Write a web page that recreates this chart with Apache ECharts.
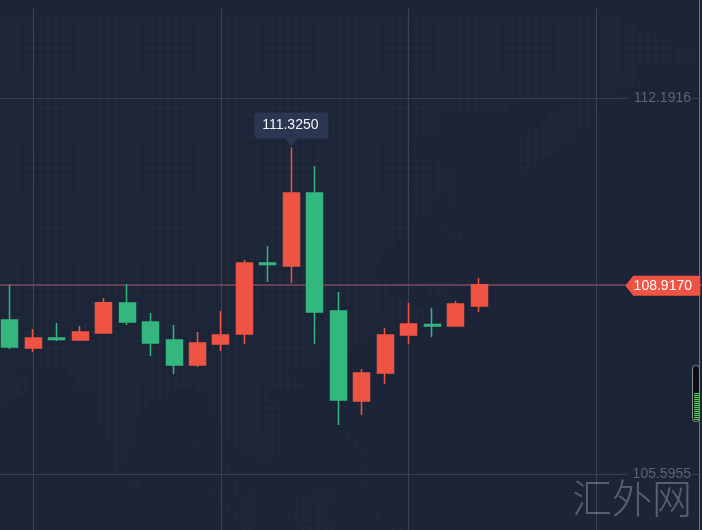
<!DOCTYPE html>
<html lang="en" style="height: 100%">

<head>
  <meta charset="utf-8" />
</head>

<body style="height: 100%; margin: 0; background: #1c2437">
  <div id="container" style="width: 702px; height: 530px"></div>

  <script src="https://cdn.jsdelivr.net/npm/echarts@6/dist/echarts.min.js"></script>
  <script type="text/javascript">
    // [open, close, low, high]
    var candles = [
      [108.297, 107.823, 107.788, 108.911],
      [107.806, 107.981, 107.735, 108.139],
      [107.981, 107.955, 107.929, 108.244],
      [107.946, 108.087, 107.929, 108.192],
      [108.069, 108.600, 108.069, 108.683],
      [108.595, 108.262, 108.209, 108.928],
      [108.262, 107.893, 107.665, 108.420],
      [107.946, 107.507, 107.350, 108.209],
      [107.507, 107.893, 107.472, 108.087],
      [107.876, 108.034, 107.753, 108.455],
      [108.051, 109.297, 107.876, 109.349],
      [109.297, 109.270, 108.964, 109.595],
      [109.244, 110.525, 108.946, 111.325],
      [110.525, 108.437, 107.876, 110.999],
      [108.455, 106.893, 106.455, 108.788],
      [106.876, 107.367, 106.630, 107.437],
      [107.367, 108.034, 107.174, 108.157],
      [108.034, 108.227, 107.876, 108.595],
      [108.218, 108.192, 107.999, 108.507],
      [108.192, 108.578, 108.192, 108.630],
      [108.542, 108.917, 108.437, 109.034]
    ];
    var categories = Array.from({ length: 30 }, function (_, i) { return String(i + 1); });
    var priceTicks = [105.5955, 112.1916];
    var lastPrice = 108.917;
    var highPrice = 111.325;
    var highIndex = 12;
    var tagIndex = 28;

    // faint dotted world map behind the chart: row, then column runs
    var mapRows = [
      [2, 0, 82], [3, 0, 84], [4, 0, 87], [5, 0, 89], [6, 0, 92], [7, 0, 92], [8, 0, 92], [9, 0, 84],
      [10, 0, 84], [11, 0, 85], [12, 0, 81], [13, 0, 68, 77, 81], [14, 0, 67, 75, 79], [15, 0, 58, 73, 78],
      [16, 0, 58, 72, 78], [17, 0, 58, 70, 76], [18, 0, 55, 69, 76], [19, 0, 55, 69, 74], [20, 0, 55, 69, 73],
      [21, 0, 58, 69, 72], [22, 0, 60, 69, 70], [23, 0, 60, 70, 70], [24, 0, 61], [25, 0, 60], [26, 0, 58, 60, 60],
      [27, 0, 57, 60, 60], [28, 0, 57], [29, 0, 55], [30, 0, 54, 59, 59], [31, 0, 54, 60, 61], [32, 0, 52],
      [33, 0, 50], [34, 0, 50], [35, 0, 49], [36, 0, 49, 59, 60], [37, 0, 52, 61, 62], [38, 0, 51, 57, 60],
      [39, 0, 52, 57, 59], [40, 0, 54], [41, 0, 58], [42, 0, 57], [43, 0, 56], [44, 0, 50], [45, 0, 48],
      [46, 0, 46], [47, 0, 45], [48, 0, 42], [49, 0, 1, 9, 38], [50, 0, 3, 10, 39], [51, 0, 3, 10, 40],
      [52, 0, 3, 13, 22, 26, 35], [53, 0, 1, 13, 22, 28, 36], [54, 0, 0, 13, 19, 28, 37], [55, 13, 18, 28, 37],
      [56, 13, 17, 29, 37], [57, 14, 17, 30, 37], [58, 14, 17, 30, 37, 46, 46], [59, 15, 17, 26, 26, 31, 37, 47, 47],
      [60, 15, 16, 32, 37, 48, 48], [61, 15, 16, 34, 36], [62, 15, 15, 30, 30, 48, 48], [63, 17, 18, 30, 30, 46, 48],
      [64, 17, 18, 31, 31, 48, 48], [65, 28, 29, 31, 31, 33, 33, 42, 44], [66, 29, 29, 32, 33, 39, 44],
      [67, 30, 30, 32, 33, 39, 43], [68, 30, 33, 38, 43, 50, 50], [69, 31, 33, 38, 45, 50, 50], [70, 32, 33, 40, 44, 52, 53]
    ];

    var mapDots = [];
    mapRows.forEach(function (row) {
      for (var k = 1; k < row.length; k += 2) {
        for (var c = row[k]; c <= row[k + 1]; c++) mapDots.push([c, row[0]]);
      }
    });

    // level meter at the right edge: green block cut by dark stripes
    var meter = [
      { type: "rect", z: 11, shape: { x: 692.5, y: 365.5, width: 7, height: 56, r: 3 }, style: { fill: "#0b0e12", stroke: "#8b8f94", lineWidth: 1 } },
      { type: "rect", z: 12, shape: { x: 694, y: 393, width: 5, height: 27 }, style: { fill: "#4fd04f" } }
    ];
    for (var s = 394; s < 420; s += 2) {
      meter.push({ type: "rect", z: 13, shape: { x: 694, y: s, width: 5, height: 1 }, style: { fill: "#1d3a24" } });
    }

    var myChart = echarts.init(document.getElementById("container"), null, { renderer: "canvas" });
    var option = {
      backgroundColor: "#1c2437",
      animation: false,
      grid: [
        { left: -2, width: 704, top: 8, height: 522, outerBoundsMode: "none" },
        { left: 0, right: 0, top: 0, bottom: 0, outerBoundsMode: "none" }
      ],
      xAxis: [
        {
          type: "category",
          data: categories,
          axisLine: { show: false },
          axisTick: { show: false },
          axisLabel: { show: false },
          splitLine: {
            show: true,
            alignWithLabel: true,
            interval: function (index) { return index % 8 === 1; },
            lineStyle: { color: "#384052", width: 1 }
          }
        },
        { type: "value", gridIndex: 1, show: false, min: -0.4, max: 93.2 }
      ],
      yAxis: [
        {
          type: "value",
          position: "right",
          min: 104.613,
          max: 113.77,
          z: 1,
          axisLine: { show: false },
          axisTick: { show: false, customValues: priceTicks },
          axisLabel: {
            inside: true,
            margin: 10,
            customValues: priceTicks,
            color: "#5b6475",
            fontFamily: "Liberation Sans",
            fontSize: 14,
            backgroundColor: "#1c2437",
            padding: [1, 1, 1, 6],
            formatter: function (v) { return v.toFixed(4); }
          },
          splitLine: { show: true, lineStyle: { color: "#384052", width: 1 } }
        },
        { type: "value", gridIndex: 1, show: false, inverse: true, min: -0.4, max: 70.27 }
      ],
      series: [
        {
          type: "scatter",
          xAxisIndex: 1,
          yAxisIndex: 1,
          data: mapDots,
          symbolSize: 4,
          silent: true,
          z: 0,
          itemStyle: { color: "rgba(255,255,255,0.03)" }
        },
        {
          type: "candlestick",
          data: candles,
          barWidth: 16.5,
          z: 2,
          itemStyle: {
            color: "#ee5344",
            color0: "#34b67f",
            borderColor: "#ee5344",
            borderColor0: "#34b67f",
            borderWidth: 1.5
          },
          markLine: {
            silent: true,
            z: 1,
            symbol: "none",
            label: { show: false },
            lineStyle: { color: "#7d4a5c", width: 1.5, type: "solid" },
            data: [{ yAxis: lastPrice }]
          },
          markPoint: {
            silent: true,
            data: [
              {
                coord: [highIndex, highPrice],
                symbol: "path://M3,0 H71 Q74,0 74,3 V23 Q74,26 71,26 H44 L37,34 L30,26 H3 Q0,26 0,23 V3 Q0,0 3,0 Z",
                symbolSize: [74, 34],
                symbolOffset: [0, -18],
                itemStyle: { color: "#2b3650" },
                label: {
                  show: true,
                  position: "inside",
                  offset: [-1, -4],
                  color: "#f2f4f7",
                  fontFamily: "Liberation Sans",
                  fontSize: 14,
                  formatter: highPrice.toFixed(4)
                }
              },
              {
                coord: [tagIndex, lastPrice],
                symbol: "path://M0,10 L8,0 H75 V20 H8 Z",
                symbolSize: [75, 20],
                symbolOffset: [-4, 1],
                itemStyle: { color: "#ee5344" },
                label: {
                  show: true,
                  position: "inside",
                  color: "#ffffff",
                  fontFamily: "Liberation Sans",
                  fontSize: 14,
                  formatter: lastPrice.toFixed(4)
                }
              }
            ]
          }
        }
      ],
      graphic: [
        { type: "rect", z: 10, shape: { x: 699, y: 0, width: 1, height: 530 }, style: { fill: "#a8653d" } }
      ].concat(meter, [
        {
          type: "text",
          z: 12,
          left: 572,
          top: 478,
          style: {
            text: "汇外网",
            fill: "rgba(255,255,255,0.27)",
            font: "300 40px 'Noto Sans CJK SC'"
          }
        }
      ])
    };

    myChart.setOption(option);
    window.addEventListener("resize", myChart.resize);
  </script>
</body>

</html>
